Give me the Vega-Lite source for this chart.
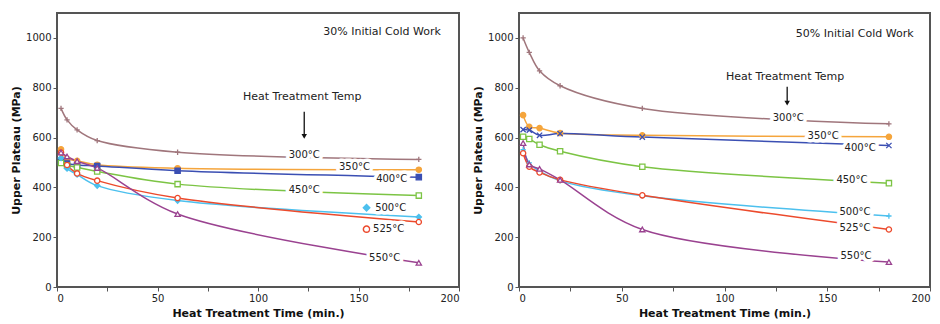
{
  "$schema": "https://vega.github.io/schema/vega-lite/v6.json",
  "background": "white",
  "padding": {"left": 9, "top": 12, "right": 1, "bottom": 2},
  "bounds": "flush",
  "spacing": 60,
  "resolve": {"scale": {"shape": "independent"}},
  "datasets": {
    "curves": [
      {"panel": "30", "temp": "300°C", "t": 2, "v": 717},
      {"panel": "30", "temp": "300°C", "t": 5, "v": 671},
      {"panel": "30", "temp": "300°C", "t": 10, "v": 631},
      {"panel": "30", "temp": "300°C", "t": 20, "v": 588},
      {"panel": "30", "temp": "300°C", "t": 60, "v": 541},
      {"panel": "30", "temp": "300°C", "t": 180, "v": 512},
      {"panel": "30", "temp": "350°C", "t": 2, "v": 553},
      {"panel": "30", "temp": "350°C", "t": 5, "v": 515},
      {"panel": "30", "temp": "350°C", "t": 10, "v": 507},
      {"panel": "30", "temp": "350°C", "t": 20, "v": 491},
      {"panel": "30", "temp": "350°C", "t": 60, "v": 477},
      {"panel": "30", "temp": "350°C", "t": 180, "v": 471},
      {"panel": "30", "temp": "400°C", "t": 2, "v": 507},
      {"panel": "30", "temp": "400°C", "t": 5, "v": 496},
      {"panel": "30", "temp": "400°C", "t": 10, "v": 490},
      {"panel": "30", "temp": "400°C", "t": 20, "v": 486},
      {"panel": "30", "temp": "400°C", "t": 60, "v": 467},
      {"panel": "30", "temp": "400°C", "t": 180, "v": 441},
      {"panel": "30", "temp": "450°C", "t": 2, "v": 498},
      {"panel": "30", "temp": "450°C", "t": 5, "v": 489},
      {"panel": "30", "temp": "450°C", "t": 10, "v": 480},
      {"panel": "30", "temp": "450°C", "t": 20, "v": 464},
      {"panel": "30", "temp": "450°C", "t": 60, "v": 413},
      {"panel": "30", "temp": "450°C", "t": 180, "v": 367},
      {"panel": "30", "temp": "500°C", "t": 2, "v": 518},
      {"panel": "30", "temp": "500°C", "t": 5, "v": 476},
      {"panel": "30", "temp": "500°C", "t": 10, "v": 452},
      {"panel": "30", "temp": "500°C", "t": 20, "v": 407},
      {"panel": "30", "temp": "500°C", "t": 60, "v": 347},
      {"panel": "30", "temp": "500°C", "t": 180, "v": 281},
      {"panel": "30", "temp": "525°C", "t": 2, "v": 540},
      {"panel": "30", "temp": "525°C", "t": 5, "v": 490},
      {"panel": "30", "temp": "525°C", "t": 10, "v": 456},
      {"panel": "30", "temp": "525°C", "t": 20, "v": 427},
      {"panel": "30", "temp": "525°C", "t": 60, "v": 357},
      {"panel": "30", "temp": "525°C", "t": 180, "v": 261},
      {"panel": "30", "temp": "550°C", "t": 2, "v": 540},
      {"panel": "30", "temp": "550°C", "t": 5, "v": 524},
      {"panel": "30", "temp": "550°C", "t": 10, "v": 505},
      {"panel": "30", "temp": "550°C", "t": 20, "v": 478},
      {"panel": "30", "temp": "550°C", "t": 60, "v": 293},
      {"panel": "30", "temp": "550°C", "t": 180, "v": 97},
      {"panel": "50", "temp": "300°C", "t": 2, "v": 1000},
      {"panel": "50", "temp": "300°C", "t": 5, "v": 942},
      {"panel": "50", "temp": "300°C", "t": 10, "v": 868},
      {"panel": "50", "temp": "300°C", "t": 20, "v": 808},
      {"panel": "50", "temp": "300°C", "t": 60, "v": 717},
      {"panel": "50", "temp": "300°C", "t": 180, "v": 655},
      {"panel": "50", "temp": "350°C", "t": 2, "v": 690},
      {"panel": "50", "temp": "350°C", "t": 5, "v": 643},
      {"panel": "50", "temp": "350°C", "t": 10, "v": 638},
      {"panel": "50", "temp": "350°C", "t": 20, "v": 618},
      {"panel": "50", "temp": "350°C", "t": 60, "v": 609},
      {"panel": "50", "temp": "350°C", "t": 180, "v": 603},
      {"panel": "50", "temp": "400°C", "t": 2, "v": 632},
      {"panel": "50", "temp": "400°C", "t": 5, "v": 630},
      {"panel": "50", "temp": "400°C", "t": 10, "v": 609},
      {"panel": "50", "temp": "400°C", "t": 20, "v": 616},
      {"panel": "50", "temp": "400°C", "t": 60, "v": 602},
      {"panel": "50", "temp": "400°C", "t": 180, "v": 568},
      {"panel": "50", "temp": "450°C", "t": 2, "v": 603},
      {"panel": "50", "temp": "450°C", "t": 5, "v": 594},
      {"panel": "50", "temp": "450°C", "t": 10, "v": 571},
      {"panel": "50", "temp": "450°C", "t": 20, "v": 545},
      {"panel": "50", "temp": "450°C", "t": 60, "v": 483},
      {"panel": "50", "temp": "450°C", "t": 180, "v": 417},
      {"panel": "50", "temp": "500°C", "t": 2, "v": 551},
      {"panel": "50", "temp": "500°C", "t": 5, "v": 498},
      {"panel": "50", "temp": "500°C", "t": 10, "v": 465},
      {"panel": "50", "temp": "500°C", "t": 20, "v": 426},
      {"panel": "50", "temp": "500°C", "t": 60, "v": 366},
      {"panel": "50", "temp": "500°C", "t": 180, "v": 285},
      {"panel": "50", "temp": "525°C", "t": 2, "v": 537},
      {"panel": "50", "temp": "525°C", "t": 5, "v": 483},
      {"panel": "50", "temp": "525°C", "t": 10, "v": 460},
      {"panel": "50", "temp": "525°C", "t": 20, "v": 430},
      {"panel": "50", "temp": "525°C", "t": 60, "v": 368},
      {"panel": "50", "temp": "525°C", "t": 180, "v": 231},
      {"panel": "50", "temp": "550°C", "t": 2, "v": 578},
      {"panel": "50", "temp": "550°C", "t": 5, "v": 492},
      {"panel": "50", "temp": "550°C", "t": 10, "v": 474},
      {"panel": "50", "temp": "550°C", "t": 20, "v": 430},
      {"panel": "50", "temp": "550°C", "t": 60, "v": 231},
      {"panel": "50", "temp": "550°C", "t": 180, "v": 100}
    ],
    "labels": [
      {"panel": "30", "temp": "300°C", "t": 123, "v": 528},
      {"panel": "30", "temp": "350°C", "t": 148, "v": 481},
      {"panel": "30", "temp": "400°C", "t": 166.5, "v": 433},
      {"panel": "30", "temp": "450°C", "t": 123, "v": 391},
      {"panel": "30", "temp": "500°C", "t": 166, "v": 317},
      {"panel": "30", "temp": "525°C", "t": 165, "v": 231},
      {"panel": "30", "temp": "550°C", "t": 163, "v": 117},
      {"panel": "50", "temp": "300°C", "t": 131, "v": 680},
      {"panel": "50", "temp": "350°C", "t": 148, "v": 608},
      {"panel": "50", "temp": "400°C", "t": 166, "v": 557},
      {"panel": "50", "temp": "450°C", "t": 162, "v": 429},
      {"panel": "50", "temp": "500°C", "t": 163.5, "v": 302},
      {"panel": "50", "temp": "525°C", "t": 163.5, "v": 238},
      {"panel": "50", "temp": "550°C", "t": 164, "v": 123}
    ],
    "symbols": [
      {"panel": "30", "temp": "500°C", "t": 154, "v": 318},
      {"panel": "30", "temp": "525°C", "t": 154, "v": 232}
    ],
    "titles": [
      {"panel": "30", "text": "30% Initial Cold Work", "t": 191, "v": 1022},
      {"panel": "50", "text": "50% Initial Cold Work", "t": 192, "v": 1016}
    ],
    "headings": [
      {"panel": "30", "text": "Heat Treatment Temp", "t": 122, "v": 761},
      {"panel": "50", "text": "Heat Treatment Temp", "t": 129.5, "v": 845}
    ],
    "arrows": [
      {"panel": "30", "t": 123, "v": 704, "v2": 605},
      {"panel": "50", "t": 130.5, "v": 804, "v2": 738}
    ]
  },
  "config": {
    "font": "DejaVu Sans",
    "view": {"stroke": "#555", "strokeWidth": 2},
    "axis": {
      "labelFont": "DejaVu Sans", "labelFontSize": 10, "labelColor": "#222",
      "titleFont": "DejaVu Sans", "titleFontSize": 11, "titleFontWeight": "bold", "titleColor": "#111",
      "domain": false, "grid": false, "tickColor": "#555", "tickSize": 4, "labelPadding": 2
    }
  },
  "hconcat": [
    {
      "width": 402, "height": 274,
      "layer": [
        {
          "data": {"name": "curves"}, "transform": [{"filter": "datum.panel == '30'"}],
          "mark": {"type": "line", "interpolate": "catmull-rom", "strokeWidth": 1.5},
          "encoding": {
            "x": {"field": "t", "type": "quantitative", "scale": {"domain": [0, 200], "nice": false}, "axis": {"title": "Heat Treatment Time (min.)", "values": [0, 25, 50, 75, 100, 125, 150, 175, 200], "labelExpr": "datum.value % 50 == 0 ? datum.label : ''", "titlePadding": 4}},
            "y": {"field": "v", "type": "quantitative", "scale": {"domain": [0, 1100], "nice": false}, "axis": {"title": "Upper Plateau (MPa)", "format": "d", "values": [0, 100, 200, 300, 400, 500, 600, 700, 800, 900, 1000], "labelExpr": "datum.value % 200 == 0 ? datum.label : ''", "titlePadding": 4}},
            "color": {"field": "temp", "type": "nominal", "scale": {"domain": ["300°C", "350°C", "400°C", "450°C", "500°C", "525°C", "550°C"], "range": ["#a0767c", "#f5a53c", "#3b4fb3", "#7cc444", "#4cc0ee", "#ec4a2c", "#9a4290"]}, "legend": null},
            "detail": {"field": "temp"}
          }
        },
        {
          "data": {"name": "curves"}, "transform": [{"filter": "datum.panel == '30'"}],
          "mark": {"type": "point", "size": 28, "strokeWidth": 1.3, "opacity": 1},
          "encoding": {
            "x": {"field": "t", "type": "quantitative"},
            "y": {"field": "v", "type": "quantitative"},
            "stroke": {"field": "temp", "type": "nominal", "scale": {"domain": ["300°C", "350°C", "400°C", "450°C", "500°C", "525°C", "550°C"], "range": ["#a0767c", "#f5a53c", "#3b4fb3", "#7cc444", "#4cc0ee", "#ec4a2c", "#9a4290"]}, "legend": null},
            "fill": {"field": "temp", "type": "nominal", "scale": {"domain": ["300°C", "350°C", "400°C", "450°C", "500°C", "525°C", "550°C"], "range": ["transparent", "#f5a53c", "#3b4fb3", "white", "#4cc0ee", "white", "white"]}, "legend": null},
            "shape": {"field": "temp", "type": "nominal", "scale": {"domain": ["300°C", "350°C", "400°C", "450°C", "500°C", "525°C", "550°C"], "range": ["M-1,0H1M0,-1V1", "circle", "square", "square", "diamond", "circle", "triangle-up"]}, "legend": null}
          }
        },
        {
          "data": {"name": "symbols"}, "transform": [{"filter": "datum.panel == '30'"}],
          "mark": {"type": "point", "size": 40, "strokeWidth": 1.5, "opacity": 1},
          "encoding": {
            "x": {"field": "t", "type": "quantitative"},
            "y": {"field": "v", "type": "quantitative"},
            "stroke": {"field": "temp", "type": "nominal", "legend": null},
            "fill": {"field": "temp", "type": "nominal", "legend": null},
            "shape": {"field": "temp", "type": "nominal", "legend": null}
          }
        },
        {
          "data": {"name": "labels"}, "transform": [{"filter": "datum.panel == '30'"}],
          "mark": {"type": "text", "fontSize": 10, "stroke": "white", "strokeWidth": 7, "fill": "white", "strokeJoin": "round"},
          "encoding": {"x": {"field": "t", "type": "quantitative"}, "y": {"field": "v", "type": "quantitative"}, "text": {"field": "temp"}}
        },
        {
          "data": {"name": "labels"}, "transform": [{"filter": "datum.panel == '30'"}],
          "mark": {"type": "text", "fontSize": 10, "fill": "#222"},
          "encoding": {"x": {"field": "t", "type": "quantitative"}, "y": {"field": "v", "type": "quantitative"}, "text": {"field": "temp"}}
        },
        {
          "data": {"name": "titles"}, "transform": [{"filter": "datum.panel == '30'"}],
          "mark": {"type": "text", "fontSize": 11, "fill": "#222", "align": "right"},
          "encoding": {"x": {"field": "t", "type": "quantitative"}, "y": {"field": "v", "type": "quantitative"}, "text": {"field": "text"}}
        },
        {
          "data": {"name": "headings"}, "transform": [{"filter": "datum.panel == '30'"}],
          "mark": {"type": "text", "fontSize": 11, "fill": "#222", "align": "center"},
          "encoding": {"x": {"field": "t", "type": "quantitative"}, "y": {"field": "v", "type": "quantitative"}, "text": {"field": "text"}}
        },
        {
          "data": {"name": "arrows"}, "transform": [{"filter": "datum.panel == '30'"}],
          "mark": {"type": "rule", "strokeWidth": 1.3, "color": "#111"},
          "encoding": {"x": {"field": "t", "type": "quantitative"}, "y": {"field": "v", "type": "quantitative"}, "y2": {"field": "v2"}}
        },
        {
          "data": {"name": "arrows"}, "transform": [{"filter": "datum.panel == '30'"}],
          "mark": {"type": "point", "shape": "triangle-down", "size": 30, "filled": true, "color": "#111", "opacity": 1},
          "encoding": {"x": {"field": "t", "type": "quantitative"}, "y": {"field": "v2", "type": "quantitative"}}
        }
      ]
    },
    {
      "width": 411, "height": 274,
      "layer": [
        {
          "data": {"name": "curves"}, "transform": [{"filter": "datum.panel == '50'"}],
          "mark": {"type": "line", "interpolate": "catmull-rom", "strokeWidth": 1.5},
          "encoding": {
            "x": {"field": "t", "type": "quantitative", "scale": {"domain": [0, 200], "nice": false}, "axis": {"title": "Heat Treatment Time (min.)", "values": [0, 25, 50, 75, 100, 125, 150, 175, 200], "labelExpr": "datum.value % 50 == 0 ? datum.label : ''", "titlePadding": 4}},
            "y": {"field": "v", "type": "quantitative", "scale": {"domain": [0, 1100], "nice": false}, "axis": {"title": "Upper Plateau (MPa)", "format": "d", "values": [0, 100, 200, 300, 400, 500, 600, 700, 800, 900, 1000], "labelExpr": "datum.value % 200 == 0 ? datum.label : ''", "titlePadding": 4}},
            "color": {"field": "temp", "type": "nominal", "scale": {"domain": ["300°C", "350°C", "400°C", "450°C", "500°C", "525°C", "550°C"], "range": ["#a0767c", "#f5a53c", "#3b4fb3", "#7cc444", "#4cc0ee", "#ec4a2c", "#9a4290"]}, "legend": null},
            "detail": {"field": "temp"}
          }
        },
        {
          "data": {"name": "curves"}, "transform": [{"filter": "datum.panel == '50'"}],
          "mark": {"type": "point", "size": 28, "strokeWidth": 1.3, "opacity": 1},
          "encoding": {
            "x": {"field": "t", "type": "quantitative"},
            "y": {"field": "v", "type": "quantitative"},
            "stroke": {"field": "temp", "type": "nominal", "scale": {"domain": ["300°C", "350°C", "400°C", "450°C", "500°C", "525°C", "550°C"], "range": ["#a0767c", "#f5a53c", "#3b4fb3", "#7cc444", "#4cc0ee", "#ec4a2c", "#9a4290"]}, "legend": null},
            "fill": {"field": "temp", "type": "nominal", "scale": {"domain": ["300°C", "350°C", "400°C", "450°C", "500°C", "525°C", "550°C"], "range": ["transparent", "#f5a53c", "#3b4fb3", "white", "#4cc0ee", "white", "white"]}, "legend": null},
            "shape": {"field": "temp", "type": "nominal", "scale": {"domain": ["300°C", "350°C", "400°C", "450°C", "500°C", "525°C", "550°C"], "range": ["M-1,0H1M0,-1V1", "circle", "M-1,-1L1,1M1,-1L-1,1", "square", "M-1,0H1M0,-1V1", "circle", "triangle-up"]}, "legend": null}
          }
        },
        {
          "data": {"name": "labels"}, "transform": [{"filter": "datum.panel == '50'"}],
          "mark": {"type": "text", "fontSize": 10, "stroke": "white", "strokeWidth": 7, "fill": "white", "strokeJoin": "round"},
          "encoding": {"x": {"field": "t", "type": "quantitative"}, "y": {"field": "v", "type": "quantitative"}, "text": {"field": "temp"}}
        },
        {
          "data": {"name": "labels"}, "transform": [{"filter": "datum.panel == '50'"}],
          "mark": {"type": "text", "fontSize": 10, "fill": "#222"},
          "encoding": {"x": {"field": "t", "type": "quantitative"}, "y": {"field": "v", "type": "quantitative"}, "text": {"field": "temp"}}
        },
        {
          "data": {"name": "titles"}, "transform": [{"filter": "datum.panel == '50'"}],
          "mark": {"type": "text", "fontSize": 11, "fill": "#222", "align": "right"},
          "encoding": {"x": {"field": "t", "type": "quantitative"}, "y": {"field": "v", "type": "quantitative"}, "text": {"field": "text"}}
        },
        {
          "data": {"name": "headings"}, "transform": [{"filter": "datum.panel == '50'"}],
          "mark": {"type": "text", "fontSize": 11, "fill": "#222", "align": "center"},
          "encoding": {"x": {"field": "t", "type": "quantitative"}, "y": {"field": "v", "type": "quantitative"}, "text": {"field": "text"}}
        },
        {
          "data": {"name": "arrows"}, "transform": [{"filter": "datum.panel == '50'"}],
          "mark": {"type": "rule", "strokeWidth": 1.3, "color": "#111"},
          "encoding": {"x": {"field": "t", "type": "quantitative"}, "y": {"field": "v", "type": "quantitative"}, "y2": {"field": "v2"}}
        },
        {
          "data": {"name": "arrows"}, "transform": [{"filter": "datum.panel == '50'"}],
          "mark": {"type": "point", "shape": "triangle-down", "size": 30, "filled": true, "color": "#111", "opacity": 1},
          "encoding": {"x": {"field": "t", "type": "quantitative"}, "y": {"field": "v2", "type": "quantitative"}}
        }
      ]
    }
  ]
}
